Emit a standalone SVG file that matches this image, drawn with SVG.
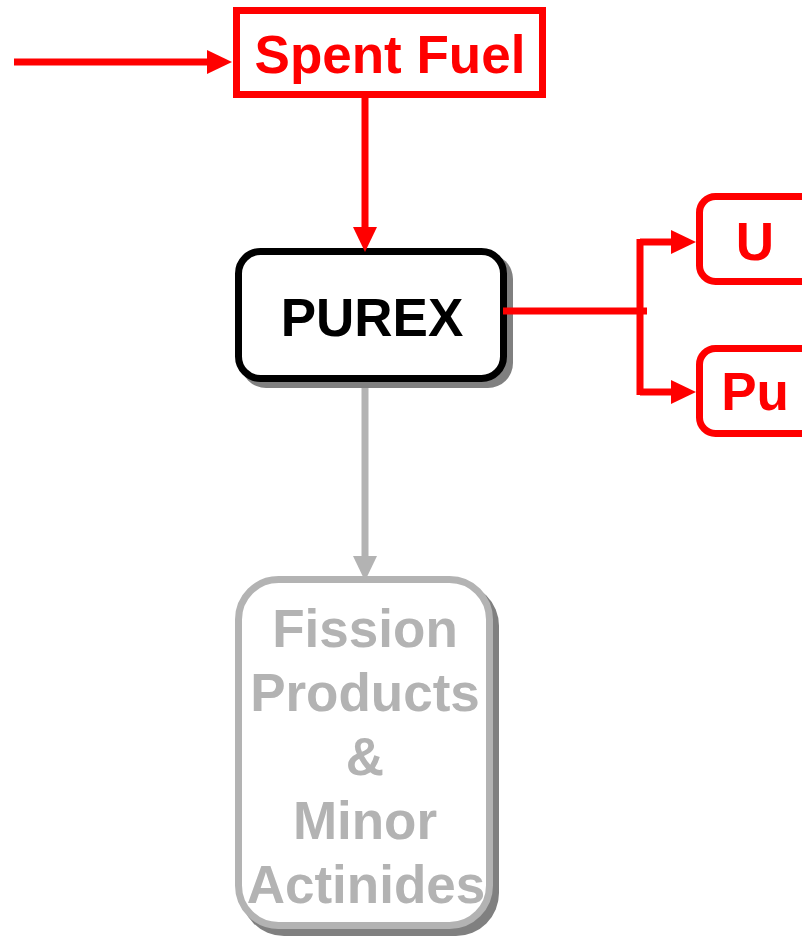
<svg xmlns="http://www.w3.org/2000/svg" width="802" height="939" viewBox="0 0 802 939">
<style>
  .lbl { font-family: "Liberation Sans", Arial, sans-serif; font-weight: bold; text-anchor: middle; font-size: 53px; }
  .red { fill: #ff0000; }
  .gray { fill: #b3b3b3; }
  .conn-red { stroke: #ff0000; stroke-width: 7; fill: none; }
  .conn-gray { stroke: #b3b3b3; stroke-width: 7; fill: none; }
  .shadow { fill: #808080; }
</style>
<defs>
  <marker id="ahRed" markerUnits="userSpaceOnUse" markerWidth="25" markerHeight="24" refX="0" refY="12" orient="auto">
    <path d="M0,0 L25,12 L0,24 z" fill="#ff0000"/>
  </marker>
  <marker id="ahGray" markerUnits="userSpaceOnUse" markerWidth="25" markerHeight="24" refX="0" refY="12" orient="auto">
    <path d="M0,0 L25,12 L0,24 z" fill="#b3b3b3"/>
  </marker>
</defs>
<rect width="802" height="939" fill="#ffffff"/>

<g id="spent-fuel">
  <rect x="236.5" y="10.5" width="306" height="84" fill="#ffffff" stroke="#ff0000" stroke-width="7"/>
  <text class="lbl red" x="390" y="73">Spent Fuel</text>
</g>

<g id="purex">
  <rect class="shadow" x="241" y="254" width="272" height="134" rx="25"/>
  <rect x="238.5" y="251.5" width="265" height="127" rx="22" fill="#ffffff" stroke="#000000" stroke-width="7"/>
  <text class="lbl" x="372" y="336" fill="#000000">PUREX</text>
</g>

<g id="u">
  <rect x="699.5" y="196.5" width="140" height="85" rx="16" fill="#ffffff" stroke="#ff0000" stroke-width="7"/>
  <text class="lbl red" x="755" y="260">U</text>
</g>

<g id="pu">
  <rect x="699.5" y="348.5" width="140" height="85" rx="16" fill="#ffffff" stroke="#ff0000" stroke-width="7"/>
  <text class="lbl red" x="755" y="410">Pu</text>
</g>

<g id="fission-products">
  <rect class="shadow" x="241" y="583" width="258" height="353" rx="43"/>
  <rect x="238.5" y="579.5" width="251" height="346" rx="40" fill="#ffffff" stroke="#b3b3b3" stroke-width="7"/>
  <text class="lbl gray" x="365" y="647">Fission</text>
  <text class="lbl gray" x="365" y="711">Products</text>
  <text class="lbl gray" x="365" y="775">&amp;</text>
  <text class="lbl gray" x="365" y="839">Minor</text>
  <text class="lbl gray" x="366" y="903">Actinides</text>
</g>

<g id="connectors">
  <path class="conn-red" d="M14,62 H207" marker-end="url(#ahRed)"/>
  <path class="conn-red" d="M365,98 V227" marker-end="url(#ahRed)"/>
  <path class="conn-red" d="M503,311 H647"/>
  <path class="conn-red" d="M640,239 V395"/>
  <path class="conn-red" d="M640,242 H671" marker-end="url(#ahRed)"/>
  <path class="conn-red" d="M640,392 H671" marker-end="url(#ahRed)"/>
  <path class="conn-gray" d="M365,388 V556" marker-end="url(#ahGray)"/>
</g>
</svg>
